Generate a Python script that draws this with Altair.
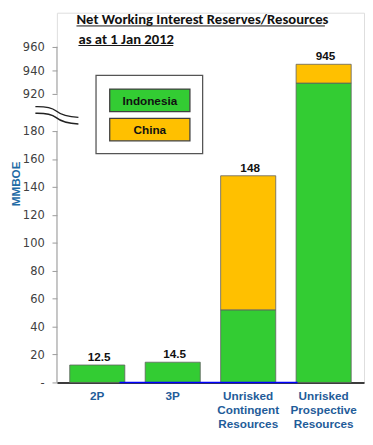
import altair as alt
import pandas as pd

# ---- data ----
categories = ["2P", "3P", "Unrisked Contingent Resources", "Unrisked Prospective Resources"]
indonesia = [12.5, 14.5, 52, 929]
china = [0, 0, 96, 16]
totals = [12.5, 14.5, 148, 945]
total_labels = ["12.5", "14.5", "148", "945"]
series = ["Indonesia", "China"]
colors = ["#33CC33", "#FFC000"]
y_ticks = [0, 20, 40, 60, 80, 100, 120, 140, 160, 180, 920, 940, 960]
axis_segments_lo = [0, 920]
axis_segments_hi = [180, 960]
title_lines = ["Net Working Interest Reserves/Resources", "as at 1 Jan 2012"]
y_title = "MMBOE"

# ---- tables ----
rows = []
for i, c in enumerate(categories):
    rows.append({"category": c, "series": "Indonesia", "value": indonesia[i], "ord": 0})
    rows.append({"category": c, "series": "China", "value": china[i], "ord": 1})
bars_df = pd.DataFrame(rows)
tot_df = pd.DataFrame({"category": categories, "total": totals, "label": total_labels})
seg_df = pd.DataFrame({"y0": axis_segments_lo, "y1": axis_segments_hi})

H = 378
W = 314
yscale = alt.Scale(domain=[0, 180, 920, 960], range=[H, 121, 82.7, 34.7], nice=False, zero=False)
xenc = alt.X(
    "category:N",
    sort=categories,
    scale=alt.Scale(paddingInner=0.27, paddingOuter=0.17),
    axis=alt.Axis(
        title=None, ticks=False, labelAngle=0, domainColor="#000000", domainWidth=1.5,
        labelExpr="split(datum.label, ' ')", labelFont="Liberation Sans", labelFontWeight="bold",
        labelFontSize=12, labelColor="#1F5C99", labelPadding=8, labelLineHeight=14.3,
    ),
)

yaxis = alt.Axis(
    values=y_ticks, tickCount=40, title=None, domain=False, grid=False, tickSize=5,
    tickColor="#999999", labelColor="#404040",
    labelFont="Liberation Sans Narrow, DejaVu Sans Condensed, Arial",
    labelFontSize=13, labelPadding=8, labelOverlap=False,
    labelExpr="datum.value == 0 ? '-' : datum.label",
)

bars = alt.Chart(bars_df).mark_bar(stroke="#606060", strokeWidth=0.8).encode(
    x=xenc,
    y=alt.Y("value:Q", stack="zero", scale=yscale, axis=yaxis),
    color=alt.Color("series:N", scale=alt.Scale(domain=series, range=colors), legend=None),
    order=alt.Order("ord:Q"),
).transform_filter("datum.value > 0")

labels = alt.Chart(tot_df).mark_text(
    dy=-8, fontWeight="bold", fontSize=12, font="Liberation Sans", color="#111111", dx=2
).encode(x=alt.X("category:N", sort=categories), y=alt.Y("total:Q", scale=yscale), text="label:N")

axis_lines = alt.Chart(seg_df).mark_rule(color="#A0A0A0", strokeWidth=1).encode(
    x=alt.value(0), y=alt.Y("y0:Q", scale=yscale), y2="y1:Q"
)

one = alt.Data(values=[{}])
blue_line = alt.Chart(one).mark_rule(color="#0000FF", strokeWidth=1.5).encode(
    x=alt.value(64), x2=alt.value(246), y=alt.value(H)
)

break_path = ("M-1,-0.41 C-0.5,-0.42 -0.25,-0.38 -0.05,-0.22 C0.15,-0.06 0.4,0.06 1,0.09 "
              "M-1,-0.1 C-0.5,-0.11 -0.25,-0.07 -0.05,0.09 C0.15,0.25 0.4,0.37 1,0.4")
brk = alt.Chart(one).mark_point(
    shape=break_path, size=1936, filled=False, stroke="#222222", strokeWidth=1.4, opacity=1
).encode(x=alt.value(0), y=alt.value(105))

ytitle = alt.Chart(one).mark_text(
    text=y_title, angle=270, font="Liberation Sans", fontWeight="bold", fontSize=12,
    color="#1F6BA5", align="center", baseline="middle"
).encode(x=alt.value(-42), y=alt.value(175))

title_font = "Carlito, Lato, Liberation Sans"
t1 = alt.Chart(one).mark_text(
    text=title_lines[0], font=title_font, fontWeight="bold", fontSize=15, align="left",
    baseline="alphabetic", color="#111111"
).encode(x=alt.value(20), y=alt.value(11.5))
u1 = alt.Chart(one).mark_rule(color="#111111", strokeWidth=1).encode(
    x=alt.value(20), x2=alt.value(274), y=alt.value(13.5))
t2 = alt.Chart(one).mark_text(
    text=title_lines[1], font=title_font, fontWeight="bold", fontSize=15, align="left",
    baseline="alphabetic", color="#111111"
).encode(x=alt.value(22), y=alt.value(31.5))
u2 = alt.Chart(one).mark_rule(color="#111111", strokeWidth=1).encode(
    x=alt.value(22), x2=alt.value(119), y=alt.value(33.5))

legend_layers = [
    alt.Chart(one).mark_rect(fill="white", stroke="#555555", strokeWidth=1.3).encode(
        x=alt.value(40), x2=alt.value(149), y=alt.value(64), y2=alt.value(144))
]
for i, s in enumerate(series):
    legend_layers.append(
        alt.Chart(one).mark_rect(fill=colors[i], stroke="#404040", strokeWidth=1.3).encode(
            x=alt.value(54), x2=alt.value(136), y=alt.value(78 + 30 * i), y2=alt.value(101 + 30 * i))
    )
    legend_layers.append(
        alt.Chart(one).mark_text(
            text=s, font="Liberation Sans", fontWeight="bold", fontSize=12, color="#111111",
            align="center", baseline="middle"
        ).encode(x=alt.value(95), y=alt.value(90 + 30 * i))
    )

chart = alt.layer(
    axis_lines, bars, blue_line, labels, brk, ytitle, t1, u1, t2, u2, *legend_layers
).properties(
    width=W, height=H,
    autosize=alt.AutoSizeParams(type="none"),
    padding={"left": 50, "top": 0, "right": 1, "bottom": 55},
).configure_view(stroke=None).configure(background="white")

chart.save("out.html", embed_options={"renderer": "svg", "actions": False})
